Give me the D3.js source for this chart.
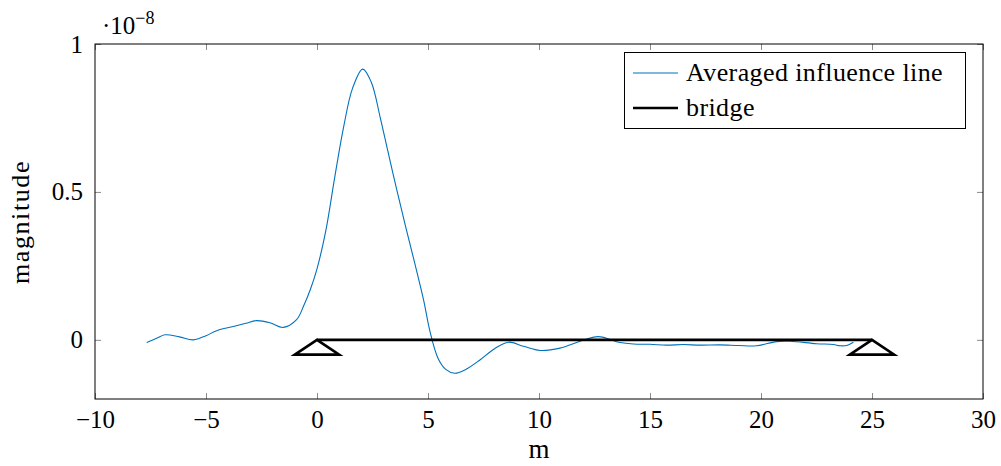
<!DOCTYPE html>
<html>
<head>
<meta charset="utf-8">
<script src="https://cdn.jsdelivr.net/npm/d3@7"></script>
<style>
  body { margin: 0; background: #fff; }
</style>
</head>
<body>
<svg id="chart" width="1001" height="466"></svg>
<script>
// Averaged influence line (magnitude in units of 1e-8) against position in m
const positions = [-7.67, -7.2, -6.85, -6.2, -5.57, -5.0, -4.52, -3.77, -3.2, -2.72, -2.12, -1.52, -0.92, -0.6,
  -0.3, 0.0, 0.4, 0.8, 1.2, 1.6, 2.06, 2.45, 2.84, 3.2, 3.6, 4.0, 4.4, 4.8, 5.1, 5.45, 5.8, 6.2, 6.7, 7.34,
  8.0, 8.62, 9.3, 10.05, 10.95, 11.85, 12.67, 13.65, 14.25, 15.0, 15.75, 16.5, 17.25, 18.15, 19.0, 19.8,
  20.7, 21.3, 22.5, 23.26, 23.56, 23.86, 24.16];
const magnitudes = [-0.009, 0.006, 0.017, 0.010, 0.000, 0.014, 0.031, 0.045, 0.056, 0.065, 0.058, 0.042, 0.068, 0.115,
  0.17, 0.24, 0.37, 0.55, 0.72, 0.85, 0.915, 0.87, 0.754, 0.635, 0.505, 0.38, 0.26, 0.135, 0.025, -0.062, -0.10, -0.113, -0.10, -0.068,
  -0.030, -0.008, -0.022, -0.036, -0.028, -0.005, 0.011, -0.009, -0.014, -0.015, -0.018, -0.016, -0.018, -0.017, -0.019, -0.020,
  -0.006, -0.005, -0.013, -0.016, -0.020, -0.019, -0.008];

// Bridge deck and its two supports
const bridgeEnds = [0, 25];
const supportPositions = [0, 25];
const supportHalfWidth = 1;
const supportHeight = 0.05;

const xTicks = [-10, -5, 0, 5, 10, 15, 20, 25, 30];
const yTicks = [0, 0.5, 1];
const legendNames = ["Averaged influence line", "bridge"];

const serif = '"Liberation Serif", "DejaVu Serif", "Times New Roman", serif';
const lineBlue = "#0072bd";
const svg = d3.select("#chart").style("font-family", serif);

const x = d3.scaleLinear().domain([-10, 30]).range([95, 983]);
const y = d3.scaleLinear().domain([-0.2, 1]).range([399, 44]);

const plot = svg.append("g");

// Clip to the axis box
svg.append("clipPath").attr("id", "box")
  .append("rect").attr("x", 95).attr("y", 44).attr("width", 888).attr("height", 355);

// Inward ticks on all four sides
const tickStyle = g => {
  g.attr("font-family", null).attr("font-size", null);
  g.select(".domain").remove();
  g.selectAll(".tick line").attr("stroke", "#8a8a8a").attr("stroke-width", 1);
  g.selectAll(".tick text").style("font-family", serif).style("font-size", "25px").attr("fill", "#000");
};
plot.append("g").attr("transform", `translate(0,399)`)
  .call(d3.axisBottom(x).tickValues(xTicks).tickSize(-6).tickPadding(11).tickFormat(d3.format("")))
  .call(tickStyle);
plot.append("g").attr("transform", `translate(0,44)`)
  .call(d3.axisTop(x).tickValues(xTicks).tickSize(-6).tickFormat(""))
  .call(tickStyle);
plot.append("g").attr("transform", `translate(95,0)`)
  .call(d3.axisLeft(y).tickValues(yTicks).tickSize(-6).tickPadding(12).tickFormat(d3.format("")))
  .call(tickStyle);
plot.append("g").attr("transform", `translate(983,0)`)
  .call(d3.axisRight(y).tickValues(yTicks).tickSize(-6).tickFormat(""))
  .call(tickStyle);

const marks = svg.append("g").attr("clip-path", "url(#box)");

// Influence line
const line = d3.line().x((d, i) => x(positions[i])).y(d => y(d)).curve(d3.curveCatmullRom.alpha(0.5));
marks.append("path")
  .attr("d", line(magnitudes))
  .attr("fill", "none")
  .attr("stroke", lineBlue)
  .attr("stroke-width", 1.1);

// Bridge deck
marks.append("line")
  .attr("x1", x(bridgeEnds[0])).attr("x2", x(bridgeEnds[1]))
  .attr("y1", y(0)).attr("y2", y(0))
  .attr("stroke", "#000").attr("stroke-width", 2.6);

// Supports as triangles
marks.selectAll("path.support").data(supportPositions).join("path")
  .attr("class", "support")
  .attr("d", s => d3.line()([[x(s - supportHalfWidth), y(-supportHeight)], [x(s), y(0)], [x(s + supportHalfWidth), y(-supportHeight)]]) + "Z")
  .attr("fill", "none").attr("stroke", "#000").attr("stroke-width", 2.6).attr("stroke-linejoin", "miter");

// Frame
svg.append("rect").attr("x", 95).attr("y", 44).attr("width", 888).attr("height", 355)
  .attr("fill", "none").attr("stroke", "#000").attr("stroke-width", 1);

const label = (sel, size) => sel.style("font-family", serif).style("font-size", size + "px").attr("fill", "#000");

// Axis titles
svg.append("text").attr("x", 539).attr("y", 458).attr("text-anchor", "middle")
  .call(label, 27).text("m");
svg.append("text").attr("transform", "translate(29,222) rotate(-90)").attr("text-anchor", "middle")
  .call(label, 26).style("letter-spacing", "1.6px").text("magnitude");

// Scale factor
const expo = svg.append("text").attr("x", 102).attr("y", 34).call(label, 25);
expo.append("tspan").text("·10");
expo.append("tspan").attr("dy", -10).style("font-size", "18px").text("−8");

// Legend
const legend = svg.append("g");
legend.append("rect").attr("x", 624.5).attr("y", 52.5).attr("width", 341).attr("height", 76)
  .attr("fill", "#fff").attr("stroke", "#000").attr("stroke-width", 1);
const legendStyles = [{ color: lineBlue, width: 1.1 }, { color: "#000", width: 2.6 }];
legendNames.forEach((name, i) => {
  const cy = 73 + i * 35;
  legend.append("line").attr("x1", 633).attr("x2", 678).attr("y1", cy).attr("y2", cy)
    .attr("stroke", legendStyles[i].color).attr("stroke-width", legendStyles[i].width);
  legend.append("text").attr("x", 686).attr("y", cy + 8).call(label, 26).style("letter-spacing", "0.4px").text(name);
});
</script>
</body>
</html>
